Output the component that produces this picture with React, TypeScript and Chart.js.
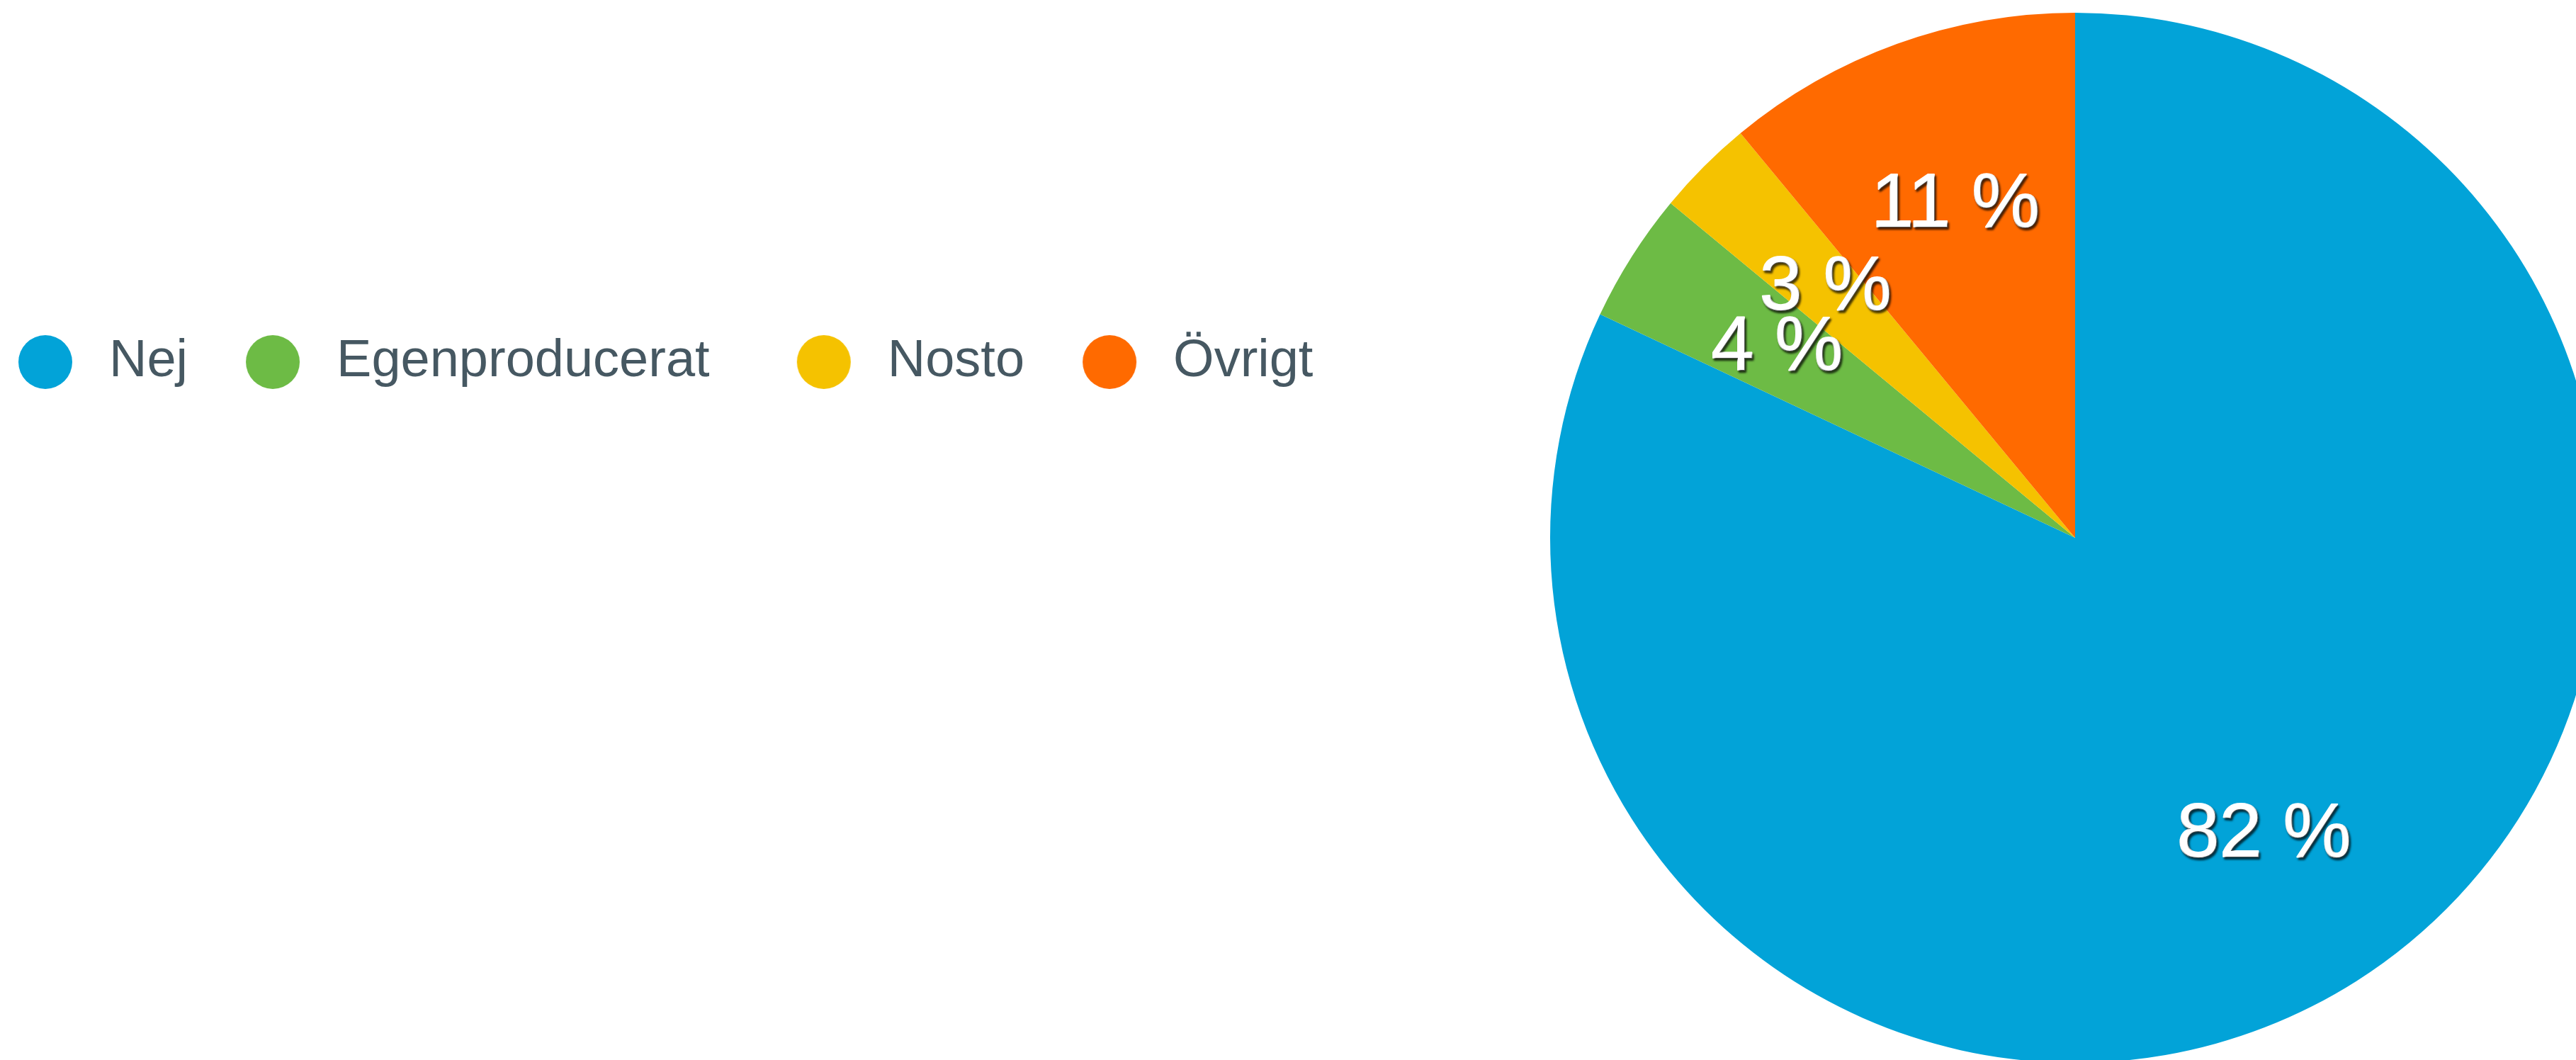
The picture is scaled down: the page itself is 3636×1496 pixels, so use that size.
import React, { useEffect, useRef } from 'react';
import { Chart, registerables } from 'chart.js';

Chart.register(...registerables);

const categories = ['Nej', 'Egenproducerat', 'Nosto', 'Övrigt'];
const shares = [82, 4, 3, 11];
const sliceColors = ['#02a3d8', '#6dbb45', '#f5c200', '#ff6a00'];
const labelSuffix = ' %';
const legendTextColor = '#465862';
const fontFamily = '"Liberation Sans", Arial, Helvetica, sans-serif';
// trailing spacing after legend entries (reference spacing is uneven)
const legendTrail = ['', '  ', '', ''];

export default function App() {
  const ref = useRef<HTMLCanvasElement>(null);

  useEffect(() => {
    const canvas = ref.current;
    if (!canvas) return;

    const markers = sliceColors.map((c) => {
      const m = document.createElement('canvas');
      m.width = 78;
      m.height = 78;
      const g = m.getContext('2d');
      if (g) {
        g.fillStyle = c;
        g.beginPath();
        g.arc(39, 39, 38, 0, Math.PI * 2);
        g.fill();
      }
      return m;
    });

    const sliceLabels = {
      id: 'sliceLabels',
      afterDatasetsDraw(chart: any) {
        const ctx = chart.ctx;
        const meta = chart.getDatasetMeta(0);
        ctx.save();
        ctx.font = `normal 108px ${fontFamily}`;
        ctx.textAlign = 'center';
        ctx.textBaseline = 'middle';
        ctx.fillStyle = '#ffffff';
        ctx.strokeStyle = '#ffffff';
        ctx.lineWidth = 2;
        ctx.lineJoin = 'round';
        ctx.shadowColor = 'rgba(0,0,0,0.7)';
        ctx.shadowOffsetX = 2;
        ctx.shadowOffsetY = 3;
        ctx.shadowBlur = 3;
        meta.data.forEach((arc: any, i: number) => {
          const p = arc.getProps(['x', 'y', 'startAngle', 'endAngle', 'outerRadius'], true);
          const mid = (p.startAngle + p.endAngle) / 2;
          const d = p.outerRadius * 0.672;
          const tx = p.x + Math.cos(mid) * d;
          const ty = p.y + Math.sin(mid) * d;
          const txt = shares[i] + labelSuffix;
          ctx.strokeText(txt, tx, ty);
          ctx.fillText(txt, tx, ty);
        });
        ctx.restore();
      },
    };

    const chart = new Chart(canvas, {
      type: 'pie',
      data: {
        labels: categories,
        datasets: [
          {
            data: shares,
            backgroundColor: sliceColors,
            borderWidth: 0,
            radius: 741,
            clip: false,
          } as any,
        ],
      },
      options: {
        responsive: true,
        maintainAspectRatio: false,
        animation: false,
        devicePixelRatio: 1,
        events: [],
        layout: { padding: { left: 0, right: 0, top: 407, bottom: 536 } },
        plugins: {
          tooltip: { enabled: false },
          legend: {
            position: 'top',
            align: 'start',
            labels: {
              usePointStyle: true,
              pointStyleWidth: 106,
              padding: 67,
              color: legendTextColor,
              font: { family: fontFamily, size: 74 },
              generateLabels: () =>
                categories.map((t, i) => ({
                  text: t + legendTrail[i],
                  fillStyle: sliceColors[i],
                  strokeStyle: sliceColors[i],
                  lineWidth: 0,
                  pointStyle: markers[i] as any,
                  hidden: false,
                  index: i,
                  fontColor: legendTextColor,
                })),
            },
          },
        },
      } as any,
      plugins: [sliceLabels],
    });

    return () => chart.destroy();
  }, []);

  return (
    <div style={{ position: 'fixed', left: 0, top: 0, width: '3636px', height: '1496px', overflow: 'hidden' }}>
      <div style={{ position: 'absolute', left: '-56px', top: 0, width: '5970px', height: '1496px' }}>
        <canvas ref={ref} />
      </div>
    </div>
  );
}
